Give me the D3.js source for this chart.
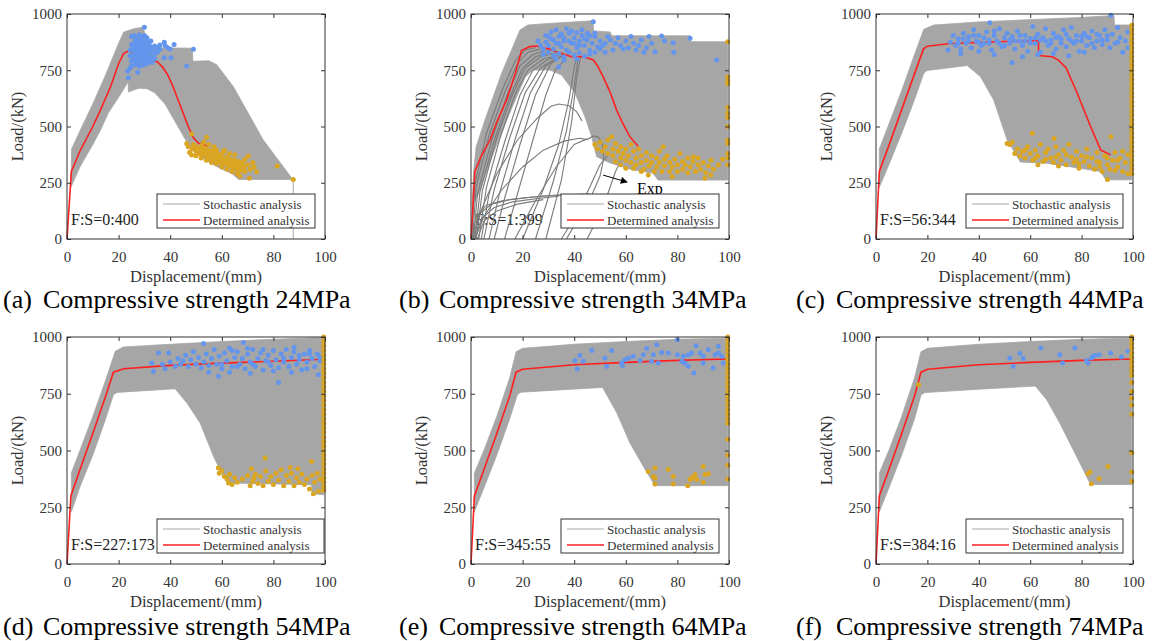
<!DOCTYPE html>
<html>
<head>
<meta charset="utf-8">
<script src="https://cdn.jsdelivr.net/npm/d3@7"></script>
<style>
  body { margin: 0; background: #fff; }
  svg text { font-family: "Liberation Serif", "Times New Roman", serif; }
</style>
</head>
<body>
<script>
'use strict';

// ---- data (displacement mm, load kN) ----
const xTicks = [0, 20, 40, 60, 80, 100];
const yTicks = [0, 250, 500, 750, 1000];
const letters = ['a', 'b', 'c', 'd', 'e', 'f'];
const strengths = ['24MPa', '34MPa', '44MPa', '54MPa', '64MPa', '74MPa'];
const ratios = ['F:S=0:400', 'F:S=1:399', 'F:S=56:344', 'F:S=227:173', 'F:S=345:55', 'F:S=384:16'];
const legendNames = ['Stochastic analysis', 'Determined analysis'];

// stochastic envelope, upper and lower edges
const envUpperA = [[1.5,230],[1.8,400],[5,480],[10,600],[15,730],[20,870],[22,920],[26,935],[29.7,942],[30.5,880],[33,850],[48.6,848],[48.8,790],[55,792],[58,775],[64.5,677],[76,441],[87.5,265]];
const envLowerA = [[1.5,230],[5,320],[10,420],[13,485],[16,560],[20,630],[23.5,695],[23.7,698],[23.8,653],[26,663],[28,670],[31,668],[34,650],[38,600],[42,520],[46,440],[48,400],[52,365],[58,322],[64,290],[66.5,265],[87.5,265]];
const envUpperB = [[0.4,150],[1,300],[2,410],[5.4,529],[12,740],[19,929],[22,951],[30,958],[47.3,970],[47.5,925],[54,920],[54.5,903],[85,903],[85.2,877],[99.5,877]];
const envLowerB = [[0.4,150],[3,200],[6,300],[10,420],[15,560],[21,720],[24,751],[30.6,751],[35.1,729],[40.3,649],[44.2,542],[46.8,453],[48.7,366],[53.9,338],[62.8,307],[70.5,293],[72.5,262],[99.5,262]];
const envUpperC = [[1.3,230],[1.3,400],[5,510],[10,660],[15,820],[18.6,932],[22.5,951],[40,965],[60,975],[80,985],[92.6,993],[92.8,951],[99.5,951]];
const envLowerC = [[1.3,230],[5,330],[10,470],[15,620],[18.6,737],[19.9,749],[35.5,771],[40.6,722],[45.8,618],[51,441],[54.9,367],[56.2,342],[66.6,337],[87.4,300],[89.4,263],[99.5,263]];
const envUpperD = [[1.7,230],[1.7,401],[5,500],[10,650],[15,810],[18.7,937],[21.9,956],[40,968],[60,980],[80,990],[99.5,998]];
const envLowerD = [[1.7,230],[5,340],[10,480],[15,640],[18,746],[19.4,756],[41.9,772],[46.5,709],[51.6,621],[56.8,474],[60.6,386],[62.6,357],[94.8,349],[95,310],[99.5,305]];
const envUpperE = [[1.3,230],[1.3,400],[5,500],[10,650],[15,820],[17.5,935],[20,950],[40,968],[60,980],[80,990],[99.5,995]];
const envLowerE = [[1.3,230],[5,335],[10,480],[15,640],[18,747],[19.5,757],[51,778],[56.5,666],[61.6,533],[66.8,430],[70.7,357],[71.5,345],[99.5,345]];
const envUpperF = [[1.3,230],[1.3,400],[5,500],[10,650],[15,820],[17.5,935],[20,950],[40,968],[60,980],[80,990],[99.5,995]];
const envLowerF = [[1.3,230],[5,335],[10,480],[15,640],[17.5,745],[19,755],[40,770],[62,784],[66.4,724],[71.5,621],[76.7,504],[80.6,416],[83.2,357],[84,350],[99.5,350]];

// determined analysis curves
const redA = [[0,0],[1.7,300],[5,390],[10,500],[13,574],[17,680],[20,780],[22,825],[24,836],[27,820],[30,800],[33,792],[35,788],[37,765],[39,730],[41,680],[43,620],[45,560],[47,500],[49,450],[51,425],[54.8,411]];
const redB = [[0,0],[1.5,300],[4,370],[7.4,441],[10,520],[13.8,618],[17,730],[19.6,838],[22.8,855],[25.4,858],[30,845],[35,825],[39,810],[43.5,811],[47.4,796],[49,770],[51.2,722],[54,650],[56.4,574],[59,510],[61.5,456],[64.8,411]];
const redC = [[0,0],[1.3,300],[5,415],[10,575],[15,735],[18.5,845],[20,857],[28,868],[40,874],[50,878],[63.2,881],[63.3,815],[68.6,810],[71,795],[74,760],[78.3,648],[83.5,500],[87.4,396],[91.3,374]];
const redD = [[0,0],[1.5,300],[5,415],[10,575],[15,740],[18,845],[22,860],[40,875],[60,885],[80,893],[99.5,902]];
const redE = [[0,0],[1.3,300],[5,415],[10,575],[15,740],[17.5,845],[20,858],[40,878],[60,888],[80,897],[99.5,903]];
const redF = [[0,0],[1.3,300],[5,415],[10,575],[15,740],[17.5,845],[20,858],[40,878],[60,888],[80,897],[99.5,903]];

// individual stochastic curves that leave the envelope
const curvesA = [[[87.7,265],[87.7,0]]];
const curvesB = [
  [[0.3,0],[1.5,240],[6,470],[12,660],[17,790],[21,840],[25,850]],
  [[0.6,0],[2,230],[7,460],[13,650],[18,780],[22,830],[27,845]],
  [[1,0],[2.5,200],[8,440],[14,640],[19,770],[24,820],[29,838]],
  [[1.5,0],[3.5,210],[9,440],[15,630],[20,760],[25,810],[31,832]],
  [[2,0],[4.5,220],[10,450],[16,640],[21,760],[27,810],[33,828]],
  [[3,0],[6,230],[11,440],[17,640],[22,750],[28,800],[35,820]],
  [[4,0],[7,200],[13,430],[19,640],[24,750],[30,800],[37,815]],
  [[5,0],[9,220],[15,450],[21,650],[27,760],[33,805]],
  [[7,0],[11,200],[17,440],[23,650],[29,770],[35,810]],
  [[9,0],[13,180],[19,420],[25,640],[31,780],[36,820]],
  [[13,0],[18,200],[24,440],[29,640],[33,760],[37,800]],
  [[1,0],[4,130],[10,290],[18,440],[26,540],[31,590],[34,600],[38,592],[41,565],[43,525]],
  [[1.5,0],[5,100],[12,220],[20,320],[28,395],[36,435],[42,448],[45,442],[47.5,458],[49.5,452],[51,420],[51.5,360],[50,280],[47,200],[42,100],[37,0]],
  [[0.3,0],[2,100],[6,150],[12,170],[20,182],[30,192],[40,198],[46,200]],
  [[0.8,0],[3,110],[8,155],[15,175],[25,188],[35,196]],
  [[1.5,0],[4,90],[9,140],[16,165],[26,180],[34,190]],
  [[2.5,0],[5,80],[10,125],[18,155],[28,175]],
  [[20,0],[28,220],[34,420],[38,620],[40,760],[41,810]],
  [[25,0],[32,260],[37,480],[40,680],[41.5,800]],
  [[29,0],[35,260],[39,520],[41,720],[42.5,810]],
  [[17,0],[25,170],[33,320],[40,420],[45,445]],
  [[35,0],[41,110],[46,230],[50,330],[53,370]],
  [[45,0],[49,90],[53,200],[56,300],[58,345]]
];
const curvesC = [], curvesD = [], curvesE = [], curvesF = [];

// failure points (blue) and strength-limited points (orange)
const blueA = [[30,941],[37.7,874],[41.5,865],[49,843],[46.4,769],[37.7,806],[40.3,806],[23.8,717],[23.5,747],[27.4,741],
  [25,900],[26,905],[27,895],[28,908],[29,900],[30,905],[31,895],[26.5,885],[27.5,880],[28.5,885],[29.5,878],[30.5,882],[31.5,876],[32.5,880],
  [25,865],[26,870],[27,860],[28,866],[29,858],[30,862],[31,855],[32,860],[33,852],[34,858],[35,850],[36,862],[38,860],[39,850],[40,845],
  [24.5,840],[25.5,845],[26.5,838],[27.5,842],[28.5,835],[29.5,840],[30.5,832],[31.5,838],[32.5,830],[33.5,835],[34.5,828],
  [24.5,815],[25.5,820],[26.5,812],[27.5,818],[28.5,810],[29.5,815],[30.5,808],[31.5,812],[32.5,805],[33.5,810],
  [25,792],[26,797],[27,790],[28,795],[29,788],[30,792],[31,785],[32,790],[33,784],[34,800],
  [25,770],[26.5,775],[28,768],[29.5,772],[31,780],[24.5,760],[35,830],[36,842],
  [26,852],[28,850],[30,848],[32,845],[27,826],[29,826],[31,824],[26,805],[28,802],[30,800],[32,798],[27,780],[30,778]];
const orangeA = [[48.3,467],[46.4,425],[54.1,452],[48.3,373],[70.3,369],[73.5,299],[70.7,270],[81.5,324],[87.7,265],
  [47,410],[48.5,400],[49,420],[50,410],[50,390],[51,400],[51.5,380],[52,415],[52.5,395],[53,375],[53.5,405],[54,385],[54.5,365],[55,420],[55,395],[55.5,375],[56,355],[56.5,390],[57,370],[57.5,350],[58,395],[58,380],[58.5,360],[59,345],[59.5,375],[60,360],[60,340],[60.5,385],[61,350],[61.5,335],[62,365],[62.5,345],[63,325],[63,380],[63.5,355],[64,335],[64.5,315],[65,350],[65.5,330],[66,310],[66.5,345],[67,325],[67.5,305],[68,340],[68.5,320],[69,300],[69,355],[70,330],[71,310],[72,340],[72.5,320],
  [66,290],[67,280],[64,300],[62,310],[60,320],[58,335],[56,340],[54,350],[52,360],[50,370],[53,430],[57,410],[61,395],[65,375],[47.5,385]];
const blueB = [[47.4,966],[73.9,902],[84.9,892],[95.2,796],[78.4,872],[78.6,830],[71.3,832],[75,880],
  [27,860],[28,845],[29,875],[30,860],[31,890],[32,845],[33,870],[34,900],[35,855],[36,880],[37,840],[38,915],[39,870],[40,895],[41,850],[42,880],[43,905],[44,860],[45,885],[46,840],[47,870],[48,900],[49,855],
  [28,820],[30,830],[32,815],[34,825],[36,810],[38,830],[40,818],[42,828],[44,812],[46,822],[48,830],[50,845],
  [29,905],[31,920],[33,930],[35,912],[37,935],[39,925],[41,918],[43,930],[45,915],[36,795],[33,800],[41,800],[34,765],
  [26,880],[30,900],[32,885],[34,870],[36,895],[38,880],[40,870],[42,860],[44,890],[46,905],[48,915],[50,880],[52,870],[53,900],[51,860],
  [54,885],[56,870],[57,895],[58,860],[60,880],[61,850],[62,900],[63,870],[65,860],[66,885],[68,850],[69,900],[70,870],[64,840],[67,830],[59,845],[55,840],[52,830]];
const orangeB = [[54.5,455],[74.5,410],[86.2,366],[68.7,284],[78,277],[90.7,270],[95.9,329],[97.5,355],
  [48,420],[49,400],[50,430],[51,390],[52,410],[53,380],[53,440],[55,400],[55,370],[56,425],[57,390],[58,360],[58,410],[59,380],[60,400],[60,350],[61,370],[62,420],[62,340],[63,390],[64,360],[64,330],[65,400],[66,370],[66,340],[67,310],[68,385],[68,350],[69,325],[70,370],[70,340],[71,300],[72,360],[72,320],[73,390],[73,340],[74,300],[75,355],[75,325],[76,370],[77,340],[77,300],[78,320],[79,355],[80,330],[80,300],[81,380],[82,345],[82,310],[83,330],[84,360],[84,295],[85,320],[86,345],[87,300],[88,330],[88,360],[89,310],[90,340],[91,295],[92,325],[93,350],[93,285],[94,310],[66,300],[63,315],[58,330],[56,345],[60,315],
  [99.5,877],[99.5,720],[99.5,705],[99.5,690],[99.5,585],[99.5,560],[99.5,540],[99.5,500],[99.5,440],[99.5,425],[99.5,380],[99.5,360],[99.5,330]];
const blueC = [[28,840],[29,875],[30,905],[31,860],[32,890],[33,845],[34,915],[35,870],[36,900],[37,850],[38,930],[39,880],[40,905],[41,860],[42,895],[43,920],[44,870],[44.3,961],[45,840],[46,905],[47,880],[48,935],[49,855],[50,895],[51,915],[52,870],[53,784],[53,900],[54,845],[55,925],[56,880],[57,860],[58,905],[59,835],[60,890],[61,945],[62,870],[63,910],[64,830],[65,895],[66,935],[67,860],[68,885],[69,915],[70,845],[71,900],[72,870],[73,930],[74,855],[75,890],[76,940],[77,870],[78,905],[79,835],[80,880],[81,915],[82,860],[83,895],[84,925],[85,850],[86,880],[87,905],[88,865],[89,930],[90,885],[91,850],[91.4,995],[92,910],[93,870],[94,940],[95,895],[96,830],[97,880],[98,920],[98,850],
  [32,870],[36,880],[40,875],[44,885],[48,870],[52,885],[56,905],[60,870],[64,885],[68,870],[72,890],[76,880],[80,900],[84,870],[88,885],[34,890],[38,905],[42,870],[46,925],[50,860],[54,880],[58,880],[62,895],[66,880],[70,895],[74,910],[78,880],[82,900],[86,910],[90,905],[94,875],[57,810],[63,820],[69,825],[75,815],[81,830],[46,820],[40,835],[33,825]];
const orangeC = [[51,425],[52,420],[53,430],[55,400],[56,370],[57,390],[58,360],[59,410],[60,380],[60.8,470],[61,350],[62,395],[63,370],[64,420],[65,345],[66,385],[67,400],[68,360],[69.3,447],[69,340],[70,410],[71,375],[72,350],[73,395],[74,330],[75,420],[76,365],[77,340],[78,390],[79,315],[80,370],[81,345],[82,400],[83,325],[84,360],[85,310],[86,385],[87,340],[88,300],[89,370],[90.1,265],[90,330],[91.4,455],[91,310],[92,350],[93,385],[94,320],[95,360],[96,300],[97,340],[98,375],[98,290],
  [54,380],[58,395],[62,360],[66,355],[70,365],[74,375],[78,355],[82,365],[86,345],[90,360],[94,350],[96,390],[63,330],[71,325],[79,335],[87,320],[93,305],
  [99.5,950],[99.5,930],[99.5,910],[99.5,890],[99.5,870],[99.5,850],[99.5,830],[99.5,810],[99.5,790],[99.5,770],[99.5,750],[99.5,730],[99.5,710],[99.5,690],[99.5,670],[99.5,650],[99.5,630],[99.5,610],[99.5,590],[99.5,570],[99.5,550],[99.5,530],[99.5,510],[99.5,490],[99.5,470],[99.5,450],[99.5,430],[99.5,410],[99.5,390],[99.5,370],[99.5,350],[99.5,330],[99.5,310],[99.5,290]];
const blueD = [[32.9,885],[33.5,849],[35.5,929],[39.4,929],[52.9,971],[58.7,827],[68.4,976],[82,800],[97.4,834],
  [37,880],[38,860],[40,890],[42,870],[43,905],[44,880],[45,895],[46,920],[47,870],[48,900],[49,935],[50,880],[51,910],[52,865],[53,890],[54,925],[55,875],[56,905],[57,945],[58,880],[59,915],[60,860],[61,930],[62,895],[63,950],[64,870],[65,910],[66,935],[67,880],[68,905],[69,860],[70,925],[71,890],[72,945],[73,870],[74,905],[75,930],[76,855],[77,895],[78,920],[79,875],[80,940],[81,900],[82,865],[83,925],[84,890],[85,945],[86,870],[87,910],[88,935],[89,880],[90,900],[91,855],[92,925],[93,890],[94,940],[95,905],[96,870],[97,925],[98,895],[98,910],
  [60,880],[66,870],[72,880],[78,890],[84,905],[90,920],[64,940],[70,950],[76,945],[88,955],[94,925],[55,845],[63,845],[71,840],[80,850],[87,845],[93,860]];
const orangeD = [[58.7,423],[76.8,467],[94.8,452],[95.5,310],[62.6,357],
  [59,400],[60,410],[61,385],[62,375],[63,395],[64,350],[65,380],[66,360],[68,375],[70,390],[71,345],[71.5,420],[72,365],[72.5,380],[73,395],[74,355],[75,385],[76,345],[77,410],[78,365],[79,385],[80,350],[81,400],[82,370],[83,415],[84,345],[85,390],[86,365],[86.5,425],[87,400],[88,345],[89,380],[89.5,420],[90,360],[91,395],[92,350],[93,375],[94,330],[95,390],[96,360],[97,400],[97.5,320],[98,375],
  [99.5,1000],[99.5,980],[99.5,960],[99.5,940],[99.5,920],[99.5,900],[99.5,880],[99.5,860],[99.5,840],[99.5,820],[99.5,800],[99.5,780],[99.5,760],[99.5,740],[99.5,720],[99.5,700],[99.5,680],[99.5,660],[99.5,640],[99.5,620],[99.5,600],[99.5,580],[99.5,560],[99.5,540],[99.5,520],[99.5,500],[99.5,480],[99.5,460],[99.5,440],[99.5,420],[99.5,400],[99.5,380],[99.5,360],[99.5,340],[99.5,325]];
const blueE = [[40.3,897],[41.2,859],[42.2,918],[43.5,893],[46.8,940],[51.9,907],[52.6,871],[54.5,940],[58.4,885],[58.7,874],[59.7,900],[61,907],[62.9,915],[65.5,896],[66.8,922],[68.1,949],[70,893],[70.7,922],[72,966],[72.6,885],[73.9,932],[76.5,930],[80,988],[80,922],[82.3,915],[82.9,885],[84.2,871],[85.5,930],[86.4,841],[87.2,962],[88.8,930],[90,885],[92,944],[93.9,863],[94.6,922],[95.9,959],[97.2,915],[97.8,885],[84.2,922],[81.7,893],[90,915],[95.9,930]];
const orangeE = [[68.7,408],[70.7,386],[71.3,423],[71.3,379],[71.3,352],[76.5,416],[78.4,386],[78.4,352],[84,345],[84.9,372],[85.5,379],[86.2,383],[86.8,394],[87.5,372],[90,430],[90.7,394],[90,360],[92,398],
  [99.5,375],[99.5,435],[99.5,480],[99.5,550],[99.5,620],[99.5,640],[99.5,660],[99.5,680],[99.5,700],[99.5,720],[99.5,740],[99.5,760],[99.5,780],[99.5,800],[99.5,820],[99.5,840],[99.5,860],[99.5,880],[99.5,900],[99.5,920],[99.5,940],[99.5,960],[99.5,980],[99.5,1000]];
const blueF = [[52.1,907],[53.4,871],[56,927],[57.3,905],[64.2,952],[71.5,922],[72.6,885],[77.4,952],[81.9,897],[82.5,885],[83.8,907],[84.5,915],[85.1,918],[86.8,922],[91.3,930],[95.5,912],[98,937]];
const orangeF = [[16.6,790],[82.5,398],[83.2,405],[83.8,354],[86.8,376],[90.3,430],
  [99.5,365],[99.5,405],[99.5,490],[99.5,660],[99.5,700],[99.5,730],[99.5,760],[99.5,800],[99.5,830],[99.5,850],[99.5,870],[99.5,890],[99.5,910],[99.5,930],[99.5,950],[99.5,970],[99.5,990],[99.5,1000]];

// arrow pointing at the test curve in panel (b)
const expArrow = [[51.2,284],[60.5,253]];
const expLabel = [64.3,202];

// ---- layout ----
const colLeft = [67, 471, 876], colRight = [325, 729, 1133];
const rowTop = [14, 337], rowBottom = [239, 564];
const legendW = [158, 158, 157, 167, 158, 157];

const env = [[envUpperA, envLowerA], [envUpperB, envLowerB], [envUpperC, envLowerC], [envUpperD, envLowerD], [envUpperE, envLowerE], [envUpperF, envLowerF]];
const reds = [redA, redB, redC, redD, redE, redF];
const curves = [curvesA, curvesB, curvesC, curvesD, curvesE, curvesF];
const blues = [blueA, blueB, blueC, blueD, blueE, blueF];
const oranges = [orangeA, orangeB, orangeC, orangeD, orangeE, orangeF];

const GRAY = '#a6a6a6', RED = '#ff1f1f', BLUE = '#6495ed', GOLD = '#daa520', AX = '#333';

const svg = d3.select('body').append('svg')
  .attr('width', 1169)
  .attr('height', 641);

letters.forEach((letter, i) => drawPanel(i));

function drawPanel(i) {
  const col = i % 3, row = Math.floor(i / 3);
  const left = colLeft[col], right = colRight[col];
  const top = rowTop[row], bottom = rowBottom[row];

  const x = d3.scaleLinear().domain([0, 100]).range([left, right]);
  const y = d3.scaleLinear().domain([0, 1000]).range([bottom, top]);
  const line = d3.line().x(d => x(d[0])).y(d => y(d[1]));

  const g = svg.append('g');

  // F:S ratio text sits under the curves
  g.append('text')
    .attr('x', left + 4)
    .attr('y', bottom - 14)
    .style('font-size', '16px')
    .attr('fill', '#222')
    .text(ratios[i]);

  // envelope of the stochastic runs
  const poly = env[i][0].concat(env[i][1].slice().reverse());
  g.append('path')
    .attr('d', line(poly) + 'Z')
    .attr('fill', GRAY)
    .attr('stroke', GRAY)
    .attr('stroke-width', 0.8);

  // single stochastic curves
  g.selectAll('.sc')
    .data(curves[i])
    .enter()
    .append('path')
    .attr('class', 'sc')
    .attr('d', line)
    .attr('fill', 'none')
    .attr('stroke', i === 0 ? '#b0b0b0' : '#7a7a7a')
    .attr('stroke-width', 1.1);

  // determined analysis
  g.append('path')
    .attr('d', line(reds[i]))
    .attr('fill', 'none')
    .attr('stroke', RED)
    .attr('stroke-width', 1.6);

  g.selectAll('.bp')
    .data(blues[i])
    .enter()
    .append('circle')
    .attr('class', 'bp')
    .attr('cx', d => x(d[0]))
    .attr('cy', d => y(d[1]))
    .attr('r', 2.5)
    .attr('fill', BLUE);

  g.selectAll('.op')
    .data(oranges[i])
    .enter()
    .append('circle')
    .attr('class', 'op')
    .attr('cx', d => x(d[0]))
    .attr('cy', d => y(d[1]))
    .attr('r', 2.5)
    .attr('fill', GOLD);

  // axes, MATLAB style box with inward ticks
  const fmt = d3.format('d');
  const axBottom = g.append('g')
    .attr('transform', `translate(0,${bottom})`)
    .call(d3.axisBottom(x).tickValues(xTicks).tickFormat(fmt).tickSizeInner(-4).tickSizeOuter(0).tickPadding(12));
  const axLeft = g.append('g')
    .attr('transform', `translate(${left},0)`)
    .call(d3.axisLeft(y).tickValues(yTicks).tickFormat(fmt).tickSizeInner(-4).tickSizeOuter(0).tickPadding(5));
  g.append('g')
    .attr('transform', `translate(0,${top})`)
    .call(d3.axisTop(x).tickValues(xTicks).tickSizeInner(-4).tickSizeOuter(0).tickFormat(''));
  g.append('g')
    .attr('transform', `translate(${right},0)`)
    .call(d3.axisRight(y).tickValues(yTicks).tickSizeInner(-4).tickSizeOuter(0).tickFormat(''));

  g.selectAll('.domain').remove();
  g.selectAll('.tick line').attr('stroke', AX);
  [axBottom, axLeft].forEach(a => a.selectAll('text')
    .style('font-size', '15px')
    .style('font-family', '"Liberation Serif", serif')
    .attr('fill', AX));

  g.append('rect')
    .attr('x', left)
    .attr('y', top)
    .attr('width', right - left)
    .attr('height', bottom - top)
    .attr('fill', 'none')
    .attr('stroke', AX)
    .attr('stroke-width', 1);

  // annotation in panel (b)
  if (i === 1) {
    svg.append('defs').append('marker')
      .attr('id', 'arr')
      .attr('viewBox', '0 0 10 10')
      .attr('refX', 9).attr('refY', 5)
      .attr('markerWidth', 9).attr('markerHeight', 7)
      .attr('orient', 'auto')
      .append('path')
      .attr('d', 'M0,0L10,5L0,10Z')
      .attr('fill', '#000');
    g.append('path')
      .attr('d', line(expArrow))
      .attr('stroke', '#000')
      .attr('stroke-width', 1)
      .attr('marker-end', 'url(#arr)');
    g.append('text')
      .attr('x', x(expLabel[0]))
      .attr('y', y(expLabel[1]))
      .style('font-size', '16px')
      .text('Exp');
  }

  // legend
  const lw = legendW[i];
  const lx = left + 90, ly = bottom - 45;
  const leg = g.append('g').attr('transform', `translate(${lx},${ly})`);
  leg.append('rect')
    .attr('width', lw).attr('height', 34)
    .attr('fill', '#fff')
    .attr('stroke', AX)
    .attr('stroke-width', 1);
  legendNames.forEach((name, k) => {
    leg.append('line')
      .attr('x1', 6).attr('x2', 43)
      .attr('y1', 10 + k * 16).attr('y2', 10 + k * 16)
      .attr('stroke', k === 0 ? '#c4c4c4' : RED)
      .attr('stroke-width', 1.6);
    leg.append('text')
      .attr('x', 46)
      .attr('y', 14.5 + k * 16)
      .style('font-size', '13px')
      .attr('fill', '#333')
      .text(name);
  });

  // axis titles
  g.append('text')
    .attr('transform', `translate(${left - 44},${(top + bottom) / 2})rotate(-90)`)
    .attr('text-anchor', 'middle')
    .style('font-size', '16.5px')
    .attr('fill', '#333')
    .text('Load/(kN)');
  g.append('text')
    .attr('x', (left + right) / 2)
    .attr('y', bottom + 43)
    .attr('text-anchor', 'middle')
    .style('font-size', '16.5px')
    .attr('fill', '#333')
    .text('Displacement/(mm)');

  // caption
  const cx = [3, 399, 796][col];
  const cy = [308, 635][row];
  g.append('text')
    .attr('x', cx)
    .attr('y', cy)
    .style('font-size', '26px')
    .attr('fill', '#000')
    .text('(' + letters[i] + ')');
  g.append('text')
    .attr('x', cx + 40)
    .attr('y', cy)
    .style('font-size', '26px')
    .attr('fill', '#000')
    .text('Compressive strength ' + strengths[i]);
}
</script>
</body>
</html>
